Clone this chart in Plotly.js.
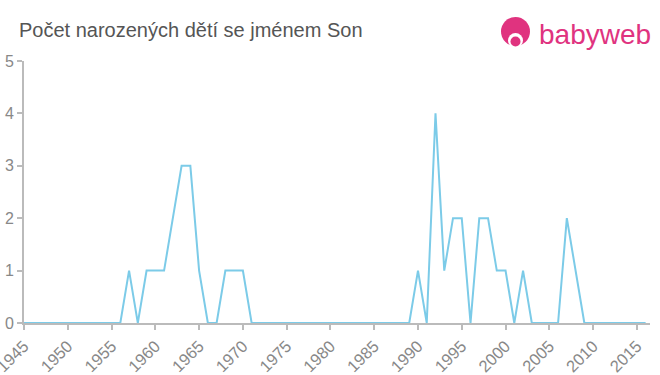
<!DOCTYPE html>
<html>
<head>
<meta charset="utf-8">
<script src="https://cdn.plot.ly/plotly-3.0.1.min.js"></script>
<style>html,body{margin:0;padding:0;background:#fff}#chart{width:660px;height:375px}</style>
</head>
<body>
<div id="chart"></div>
<script>
const years = [];
for (let y = 1945; y <= 2016; y++) years.push(y);
const counts = [
  0,0,0,0,0,0,0,0,0,0, // 1945-1954
  0,0,1,0,1,1,1,2,3,3, // 1955-1964
  1,0,0,1,1,1,0,0,0,0, // 1965-1974
  0,0,0,0,0,0,0,0,0,0, // 1975-1984
  0,0,0,0,0,1,0,4,1,2, // 1985-1994
  2,0,2,2,1,1,0,1,0,0, // 1995-2004
  0,0,2,1,0,0,0,0,0,0, // 2005-2014
  0,0                  // 2015-2016
];
const xTicks = [1945,1950,1955,1960,1965,1970,1975,1980,1985,1990,1995,2000,2005,2010,2015];
const yTicks = [0,1,2,3,4,5];
const titleText = 'Počet narozených dětí se jménem Son';
const pink = '#e0337f';

const L = 24, R = 10, T = 61, B = 52, W = 660, H = 375;
const pw = W - L - R, ph = H - T - B;
function px(x){return (x - L) / pw;}
function py(y){return (H - B - y) / ph;}

const trace = {
  x: years, y: counts, type: 'scatter', mode: 'lines',
  line: {color: '#7ccbe8', width: 2}, hoverinfo: 'none'
};
const layout = {
  width: W, height: H,
  margin: {l: L, r: R, t: T, b: B},
  paper_bgcolor: '#fff', plot_bgcolor: '#fff',
  showlegend: false,
  title: {text: titleText, x: 19 / W, xanchor: 'left', y: 1 - 30 / H, yanchor: 'middle',
    font: {family: 'Liberation Sans, Arial, sans-serif', size: 20, color: '#555'}},
  xaxis: {
    range: [1945, 2016.5], tickvals: xTicks, ticktext: xTicks.map(String),
    tickangle: -45, ticks: 'outside', ticklen: 5, tickwidth: 2, tickcolor: '#bbb',
    ticklabeloverflow: 'allow',
    showline: true, linecolor: '#bbb', linewidth: 2, showgrid: false, zeroline: false,
    tickfont: {family: 'Liberation Sans, Arial, sans-serif', size: 16.5, color: '#888'}
  },
  yaxis: {
    range: [0, 5], tickvals: yTicks, ticks: 'outside', ticklen: 5, tickwidth: 2, tickcolor: '#bbb',
    ticklabeloverflow: 'allow',
    showline: true, linecolor: '#bbb', linewidth: 2, showgrid: false, zeroline: false,
    tickfont: {family: 'Liberation Sans, Arial, sans-serif', size: 16, color: '#888'}
  },
  annotations: [
    {text: 'babyweb', xref: 'paper', yref: 'paper', x: px(653), y: py(35), xanchor: 'right', yanchor: 'middle',
     showarrow: false, font: {family: 'Liberation Sans, Arial, sans-serif', size: 28, color: pink}}
  ],
  shapes: [
    {type: 'circle', xref: 'paper', yref: 'paper', x0: px(501), x1: px(530), y0: py(46), y1: py(17), fillcolor: pink, line: {width: 0}},
    {type: 'circle', xref: 'paper', yref: 'paper', x0: px(508), x1: px(523), y0: py(48), y1: py(33), fillcolor: '#fff', line: {width: 0}},
    {type: 'circle', xref: 'paper', yref: 'paper', x0: px(510.5), x1: px(520.5), y0: py(46.5), y1: py(36.5), fillcolor: pink, line: {width: 0}}
  ]
};
Plotly.newPlot('chart', [trace], layout, {staticPlot: true, displayModeBar: false});
</script>
</body>
</html>
